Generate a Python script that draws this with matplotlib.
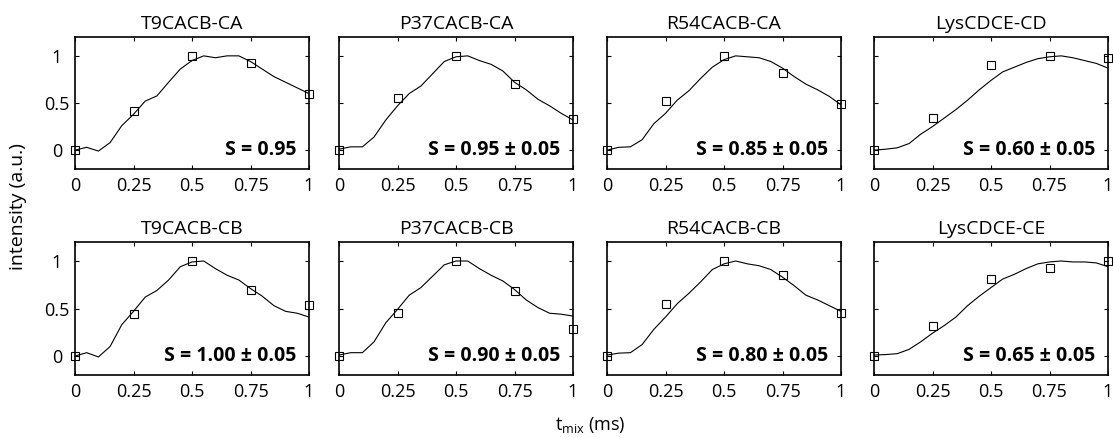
import numpy as np
import matplotlib
matplotlib.use("Agg")
import matplotlib.pyplot as plt

plt.rcParams['font.family'] = ['Open Sans', 'DejaVu Sans']
plt.rcParams['mathtext.fontset'] = 'custom'
plt.rcParams['mathtext.rm'] = 'Open Sans'
plt.rcParams['mathtext.it'] = 'Open Sans'

# Simulated build-up curves, sampled every 0.05 ms
t_sim = np.round(np.arange(0, 1.0001, 0.05), 2)
# Experimental points
t_exp = [0, 0.25, 0.5, 0.75, 1.0]

titles = ["T9CACB-CA", "P37CACB-CA", "R54CACB-CA", "LysCDCE-CD",
          "T9CACB-CB", "P37CACB-CB", "R54CACB-CB", "LysCDCE-CE"]
s_labels = ["S = 0.95", "S = 0.95 \u00b1 0.05", "S = 0.85 \u00b1 0.05", "S = 0.60 \u00b1 0.05",
            "S = 1.00 \u00b1 0.05", "S = 0.90 \u00b1 0.05", "S = 0.80 \u00b1 0.05", "S = 0.65 \u00b1 0.05"]

sim_t9_ca = [0.0, 0.03, -0.01, 0.08, 0.26, 0.38, 0.52, 0.575, 0.72, 0.86, 0.95,
             1.0, 0.98, 1.0, 1.0, 0.94, 0.86, 0.78, 0.72, 0.66, 0.6]
sim_p37_ca = [0.01, 0.035, 0.035, 0.14, 0.32, 0.47, 0.6, 0.68, 0.81, 0.94, 0.99,
              1.0, 0.95, 0.91, 0.84, 0.72, 0.64, 0.54, 0.47, 0.39, 0.32]
sim_r54_ca = [0.0, 0.03, 0.035, 0.11, 0.28, 0.39, 0.53, 0.63, 0.76, 0.88, 0.96,
              1.0, 0.99, 0.98, 0.94, 0.87, 0.78, 0.70, 0.64, 0.57, 0.48]
sim_lys_cd = [0.0, 0.01, 0.025, 0.07, 0.17, 0.25, 0.34, 0.43, 0.53, 0.64, 0.74,
              0.83, 0.88, 0.93, 0.97, 0.99, 1.0, 0.98, 0.95, 0.92, 0.87]
sim_t9_cb = [0.0, 0.035, -0.01, 0.10, 0.33, 0.47, 0.62, 0.69, 0.80, 0.94, 0.99,
             1.0, 0.92, 0.85, 0.80, 0.71, 0.63, 0.53, 0.47, 0.45, 0.41]
sim_p37_cb = [0.01, 0.035, 0.035, 0.15, 0.35, 0.49, 0.64, 0.72, 0.84, 0.96, 1.0,
              1.0, 0.92, 0.85, 0.79, 0.70, 0.59, 0.51, 0.45, 0.44, 0.42]
sim_r54_cb = [0.01, 0.03, 0.035, 0.12, 0.28, 0.41, 0.55, 0.66, 0.78, 0.91, 0.97,
              1.0, 0.97, 0.95, 0.91, 0.83, 0.74, 0.64, 0.59, 0.53, 0.47]
sim_lys_ce = [0.01, 0.015, 0.025, 0.07, 0.15, 0.24, 0.32, 0.41, 0.53, 0.63, 0.72,
              0.81, 0.86, 0.92, 0.97, 0.99, 1.0, 0.99, 0.99, 0.98, 0.94]

exp_t9_ca = [0.0, 0.42, 1.0, 0.92, 0.60]
exp_p37_ca = [0.0, 0.55, 1.0, 0.70, 0.33]
exp_r54_ca = [0.0, 0.52, 1.0, 0.82, 0.49]
exp_lys_cd = [0.0, 0.34, 0.90, 1.0, 0.98]
exp_t9_cb = [0.0, 0.44, 1.0, 0.69, 0.54]
exp_p37_cb = [0.0, 0.45, 1.0, 0.68, 0.28]
exp_r54_cb = [0.0, 0.55, 1.0, 0.85, 0.45]
exp_lys_ce = [0.0, 0.32, 0.815, 0.93, 1.0]

sims = [sim_t9_ca, sim_p37_ca, sim_r54_ca, sim_lys_cd,
        sim_t9_cb, sim_p37_cb, sim_r54_cb, sim_lys_ce]
exps = [exp_t9_ca, exp_p37_ca, exp_r54_ca, exp_lys_cd,
        exp_t9_cb, exp_p37_cb, exp_r54_cb, exp_lys_ce]

xticks = [0, 0.25, 0.5, 0.75, 1]
xticklabels = ["0", "0.25", "0.5", "0.75", "1"]
yticks = [0, 0.5, 1]
yticklabels = ["0", "0.5", "1"]

W, H = 1113, 438
fig = plt.figure(figsize=(W / 100, H / 100), dpi=100)

lefts = [75, 339, 607, 874]
pw = 234
rows = [(37, 169), (242, 375)]

for i in range(8):
    r, c = divmod(i, 4)
    top, bot = rows[r]
    ax = fig.add_axes([lefts[c] / W, 1 - bot / H, pw / W, (bot - top) / H])
    ax.plot(t_sim, sims[i], color='black', lw=0.8)
    ax.plot(t_exp, exps[i], linestyle='none', marker='s', ms=6,
            mfc='none', mec='black', mew=0.8, clip_on=False)
    ax.set_xlim(0, 1)
    ax.set_ylim(-0.2, 1.2)
    ax.set_xticks(xticks)
    ax.set_xticklabels(xticklabels)
    ax.set_yticks(yticks)
    if c == 0:
        ax.set_yticklabels(yticklabels, ha='center')
    else:
        ax.set_yticklabels([])
    ax.tick_params(direction='in', length=3, width=0.8, top=True, right=True,
                   labelsize=13, colors='black')
    ax.tick_params(axis='x', pad=6)
    ax.tick_params(axis='y', pad=13)
    for sp in ax.spines.values():
        sp.set_linewidth(1.2)
    ax.set_title(titles[i], fontsize=14, pad=6)
    ax.text(0.945, 0.0, s_labels[i], transform=ax.get_yaxis_transform(),
            ha='right', va='center', fontsize=14, fontweight='bold')

fig.text(590 / W, 1 - 425 / H, r"t$_{\mathrm{mix}}$ (ms)", ha='center', va='center', fontsize=13)
fig.text(18 / W, 1 - 207 / H, "intensity (a.u.)", ha='center', va='center',
         rotation=90, fontsize=14)

fig.savefig("out.png", dpi=100, facecolor='white')
